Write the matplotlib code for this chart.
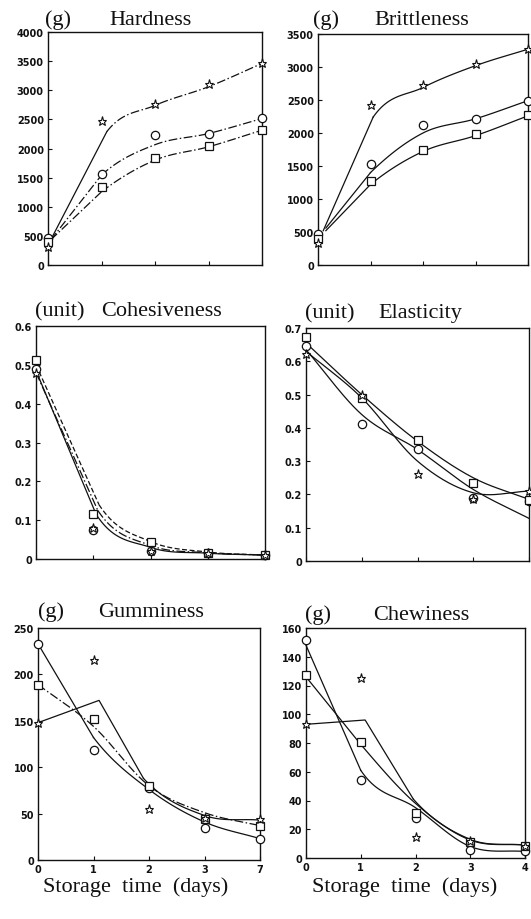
import numpy as np
import matplotlib
matplotlib.use("Agg")
import matplotlib.pyplot as plt

# ---------------- data ----------------
POS = [0, 1, 2, 3, 4]

# Hardness (g)
HARD_STAR = [310, 2480, 2770, 3100, 3465]
HARD_CIRC = [470, 1560, 2235, 2255, 2520]
HARD_SQ = [390, 1335, 1830, 2035, 2320]
HARD_STAR_FX = [0.05, 1.1, 2, 3, 4]
HARD_STAR_FIT = [430, 2290, 2740, 3060, 3460]
HARD_CIRC_FX = [0.05, 1, 2, 3, 4]
HARD_CIRC_FIT = [430, 1543, 2065, 2257, 2514]
HARD_SQ_FX = [0.05, 1, 2, 3, 4]
HARD_SQ_FIT = [430, 1257, 1800, 2029, 2314]

# Brittleness (g)
BRIT_STAR = [330, 2430, 2720, 3040, 3270]
BRIT_CIRC = [470, 1530, 2120, 2210, 2490]
BRIT_SQ = [400, 1280, 1740, 1985, 2270]
BRIT_STAR_FX = [0.1, 1.05, 2, 3, 4]
BRIT_STAR_FIT = [520, 2240, 2690, 3020, 3270]
BRIT_CIRC_FX = [0.15, 1, 2, 3, 4]
BRIT_CIRC_FIT = [560, 1400, 2000, 2215, 2490]
BRIT_SQ_FX = [0.15, 1, 2, 3, 4]
BRIT_SQ_FIT = [520, 1220, 1720, 1960, 2260]

# Cohesiveness (unit)
COH_STAR = [0.478, 0.080, 0.020, 0.015, 0.010]
COH_CIRC = [0.490, 0.075, 0.020, 0.015, 0.010]
COH_SQ = [0.512, 0.117, 0.043, 0.015, 0.010]
COH_CIRC_FX = [0, 1.05, 2, 3, 4]
COH_CIRC_FIT = [0.485, 0.115, 0.030, 0.015, 0.010]
COH_STAR_FX = [0, 1.08, 2, 3, 4]
COH_STAR_FIT = [0.480, 0.125, 0.035, 0.016, 0.010]
COH_SQ_FX = [0, 1.1, 2, 3, 4]
COH_SQ_FIT = [0.500, 0.140, 0.045, 0.018, 0.010]

# Elasticity (unit)
ELA_STAR = [0.622, 0.500, 0.261, 0.186, 0.210]
ELA_CIRC = [0.645, 0.412, 0.337, 0.190, 0.180]
ELA_SQ = [0.673, 0.490, 0.364, 0.233, 0.184]
ELA_FX = [0, 1, 2, 3, 4]
ELA_STAR_FIT = [0.630, 0.490, 0.300, 0.205, 0.210]
ELA_CIRC_FIT = [0.635, 0.440, 0.335, 0.215, 0.128]
ELA_SQ_FIT = [0.655, 0.500, 0.360, 0.250, 0.185]

# Gumminess (g)
GUM_STAR = [148, 215, 55, 45, 44]
GUM_CIRC = [233, 119, 78, 35, 23]
GUM_SQ = [189, 152, 80, 44, 37]
GUM_STAR_FX = [0, 1.1, 1.9, 3, 4]
GUM_STAR_FIT = [148, 172, 88, 48, 43]
GUM_CIRC_FX = [0, 1, 2, 3, 4]
GUM_CIRC_FIT = [233, 132, 76, 41, 23]
GUM_SQ_FX = [0, 1, 2, 3, 4]
GUM_SQ_FIT = [189, 144, 80, 51, 37]
GUM_XT = ["0", "1", "2", "3", "7"]

# Chewiness (g)
CHEW_STAR = [93, 125, 14.5, 11.5, 8.5]
CHEW_CIRC = [152, 54, 28, 5.5, 5]
CHEW_SQ = [127, 80.5, 31, 11, 8.5]
CHEW_STAR_FX = [0, 1.08, 1.96, 3, 4]
CHEW_STAR_FIT = [93, 96, 41, 13, 9]
CHEW_CIRC_FX = [0, 1, 2, 3, 4]
CHEW_CIRC_FIT = [148, 61, 35, 8, 4.5]
CHEW_SQ_FX = [0, 1, 2, 3, 4]
CHEW_SQ_FIT = [126, 79, 38, 12.5, 9]
CHEW_XT = ["0", "1", "2", "3", "4"]

# ---------------- helpers ----------------
W, H = 531, 920
fig = plt.figure(figsize=(W / 100, H / 100), dpi=100)
fig.patch.set_facecolor("white")
INK = "#111111"
DASHDOT = (0, (7, 2, 1.2, 2))


def rect(l, t, r, b):
    return [l / W, 1 - b / H, (r - l) / W, (b - t) / H]


def smooth(xk, yk, nlin, n=40):
    xk = np.asarray(xk, float)
    yk = np.asarray(yk, float)
    k = len(xk)
    m = np.zeros(k)
    for i in range(k):
        if i == 0:
            m[i] = (yk[1] - yk[0]) / (xk[1] - xk[0])
        elif i == k - 1:
            m[i] = (yk[-1] - yk[-2]) / (xk[-1] - xk[-2])
        else:
            m[i] = (yk[i + 1] - yk[i - 1]) / (xk[i + 1] - xk[i - 1])
    lin_x, lin_y = [xk[0]], [yk[0]]
    for i in range(nlin):
        lin_x.append(xk[i + 1])
        lin_y.append(yk[i + 1])
    cx, cy = [], []
    for i in range(nlin, k - 1):
        h = xk[i + 1] - xk[i]
        t = np.linspace(0, 1, n)
        h00 = 2 * t**3 - 3 * t**2 + 1
        h10 = t**3 - 2 * t**2 + t
        h01 = -2 * t**3 + 3 * t**2
        h11 = t**3 - t**2
        cx.extend(xk[i] + t * h)
        cy.extend(h00 * yk[i] + h10 * h * m[i] + h01 * yk[i + 1] + h11 * h * m[i + 1])
    return (lin_x, lin_y), (cx, cy)


def draw_fit(ax, xk, yk, nlin=1, ls_lin="-", ls_curve="-"):
    (lx, ly), (cx, cy) = smooth(xk, yk, nlin)
    if nlin > 0:
        ax.plot(lx, ly, color=INK, lw=0.9, ls=ls_lin, clip_on=False)
    if len(cx):
        ax.plot(cx, cy, color=INK, lw=0.9, ls=ls_curve, clip_on=False)


def draw_points(ax, star, circ, sq):
    ax.plot(POS, circ, ls="none", marker="o", ms=6, mfc="white", mec=INK, mew=0.9,
            clip_on=False, zorder=5)
    ax.plot(POS, sq, ls="none", marker="s", ms=5.2, mfc="white", mec=INK, mew=0.9,
            clip_on=False, zorder=5)
    ax.plot(POS, star, ls="none", marker="*", ms=6.5, mfc="white", mec=INK, mew=0.8,
            clip_on=False, zorder=6)


def setup(ax, ymax, ystep, ylabels, xlabels=None):
    ax.set_xlim(0, 4)
    ax.set_ylim(0, ymax)
    ax.set_yticks(np.arange(0, ymax + ystep / 2, ystep))
    ax.set_yticklabels(ylabels)
    ax.set_xticks(POS)
    if xlabels is None:
        ax.set_xticklabels([])
    else:
        ax.set_xticklabels(xlabels)
    ax.tick_params(axis="both", direction="in", length=3, width=0.8, color=INK,
                   labelsize=7, pad=3)
    for lab in ax.get_yticklabels() + ax.get_xticklabels():
        lab.set_fontweight("bold")
        lab.set_family("DejaVu Sans")
        lab.set_color(INK)
    for s in ax.spines.values():
        s.set_linewidth(1.0)
        s.set_color(INK)
    ax.patch.set_facecolor("white")


def title(unit, name, xl, xc, yb):
    fig.text(xl / W, 1 - yb / H, unit, family="Liberation Serif", fontsize=16,
             ha="left", va="baseline", color=INK)
    fig.text(xc / W, 1 - yb / H, name, family="Liberation Serif", fontsize=16,
             ha="center", va="baseline", color=INK)


# ---------------- Hardness ----------------
ax1 = fig.add_axes(rect(48, 33, 262, 266))
setup(ax1, 4000, 500, [str(v) for v in range(0, 4001, 500)])
draw_fit(ax1, HARD_STAR_FX, HARD_STAR_FIT, 1, "-", DASHDOT)
draw_fit(ax1, HARD_CIRC_FX, HARD_CIRC_FIT, 1, DASHDOT, DASHDOT)
draw_fit(ax1, HARD_SQ_FX, HARD_SQ_FIT, 1, DASHDOT, DASHDOT)
draw_points(ax1, HARD_STAR, HARD_CIRC, HARD_SQ)
title("(g)", "Hardness", 45, 150, 25)

# ---------------- Brittleness ----------------
ax2 = fig.add_axes(rect(318, 35, 528, 266))
setup(ax2, 3500, 500, [str(v) for v in range(0, 3501, 500)])
draw_fit(ax2, BRIT_STAR_FX, BRIT_STAR_FIT, 1)
draw_fit(ax2, BRIT_CIRC_FX, BRIT_CIRC_FIT, 1)
draw_fit(ax2, BRIT_SQ_FX, BRIT_SQ_FIT, 1)
draw_points(ax2, BRIT_STAR, BRIT_CIRC, BRIT_SQ)
title("(g)", "Brittleness", 313, 422, 25)

# ---------------- Cohesiveness ----------------
ax3 = fig.add_axes(rect(36, 327, 265, 560))
setup(ax3, 0.6, 0.1, ["0", "0.1", "0.2", "0.3", "0.4", "0.5", "0.6"])
draw_fit(ax3, COH_CIRC_FX, COH_CIRC_FIT, 1)
draw_fit(ax3, COH_STAR_FX, COH_STAR_FIT, 1, DASHDOT, DASHDOT)
draw_fit(ax3, COH_SQ_FX, COH_SQ_FIT, 1, (0, (4, 2)), (0, (4, 2)))
draw_points(ax3, COH_STAR, COH_CIRC, COH_SQ)
title("(unit)", "Cohesiveness", 35, 161, 316)

# ---------------- Elasticity ----------------
ax4 = fig.add_axes(rect(306, 329, 529, 562))
setup(ax4, 0.7, 0.1, ["0", "0.1", "0.2", "0.3", "0.4", "0.5", "0.6", "0.7"])
draw_fit(ax4, ELA_FX, ELA_STAR_FIT, 0)
draw_fit(ax4, ELA_FX, ELA_CIRC_FIT, 0)
draw_fit(ax4, ELA_FX, ELA_SQ_FIT, 0)
draw_points(ax4, ELA_STAR, ELA_CIRC, ELA_SQ)
title("(unit)", "Elasticity", 305, 420, 318)

# ---------------- Gumminess ----------------
ax5 = fig.add_axes(rect(38, 629, 260, 861))
setup(ax5, 250, 50, [str(v) for v in range(0, 251, 50)], GUM_XT)
draw_fit(ax5, GUM_STAR_FX, GUM_STAR_FIT, 2)
draw_fit(ax5, GUM_CIRC_FX, GUM_CIRC_FIT, 1)
draw_fit(ax5, GUM_SQ_FX, GUM_SQ_FIT, 0, DASHDOT, DASHDOT)
draw_points(ax5, GUM_STAR, GUM_CIRC, GUM_SQ)
title("(g)", "Gumminess", 38, 151, 617)

# ---------------- Chewiness ----------------
ax6 = fig.add_axes(rect(306, 629, 525, 859))
setup(ax6, 160, 20, [str(v) for v in range(0, 161, 20)], CHEW_XT)
draw_fit(ax6, CHEW_STAR_FX, CHEW_STAR_FIT, 2)
draw_fit(ax6, CHEW_CIRC_FX, CHEW_CIRC_FIT, 1)
draw_fit(ax6, CHEW_SQ_FX, CHEW_SQ_FIT, 1)
draw_points(ax6, CHEW_STAR, CHEW_CIRC, CHEW_SQ)
title("(g)", "Chewiness", 305, 421, 620)

# ---------------- x axis captions ----------------
for xc in (136, 405):
    fig.text(xc / W, 1 - 892 / H, "Storage  time  (days)", family="Liberation Serif",
             fontsize=16, ha="center", va="baseline", color=INK)

fig.savefig("out.png", dpi=100, facecolor="white")
